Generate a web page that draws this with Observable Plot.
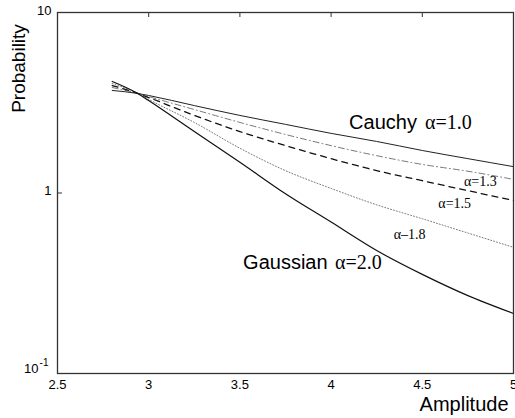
<!DOCTYPE html>
<html>
<head>
<meta charset="utf-8">
<script src="https://cdn.jsdelivr.net/npm/d3@7"></script>
<script src="https://cdn.jsdelivr.net/npm/@observablehq/plot@0.6"></script>
<style>
  body { margin: 0; background: #fff; }
  svg { font-family: "Liberation Sans", Arial, sans-serif; }
</style>
</head>
<body>
<div id="chart"></div>
<script>
// Amplitude values (x)
const amplitude = [2.8, 2.94, 3.0, 3.25, 3.5, 3.75, 4.0, 4.25, 4.5, 4.75, 5.0];
// Probability for each alpha
const cauchy  = [3.70, 3.56, 3.47, 3.05, 2.69, 2.40, 2.14, 1.93, 1.72, 1.55, 1.40];
const alpha13 = [3.84, 3.56, 3.42, 2.90, 2.46, 2.11, 1.83, 1.61, 1.44, 1.32, 1.19];
const alpha15 = [3.94, 3.56, 3.38, 2.69, 2.19, 1.83, 1.55, 1.33, 1.17, 1.03, 0.91];
const alpha18 = [4.04, 3.56, 3.30, 2.46, 1.77, 1.33, 1.06, 0.86, 0.72, 0.60, 0.50];
const gauss   = [4.15, 3.56, 3.25, 2.19, 1.48, 0.99, 0.69, 0.48, 0.354, 0.27, 0.215];

const xTicks = [2.5, 3, 3.5, 4, 4.5, 5];
const xTickLabels = ["2.5", "3", "3.5", "4", "4.5", "5"];
const yTicks = [1, 10];
const yTickLabels = ["1", "10"];

const rows = v => amplitude.map((x, i) => ({x, y: v[i]}));
const pt = (v, i) => [{x: amplitude[i], y: v[i]}];

const W = 515, H = 418;
const mL = 57, mR = 2, mT = 12, mB = 45;
const fw = W - mL - mR, fh = H - mT - mB;
const serif = "Liberation Serif, Times New Roman, serif";

const chart = Plot.plot({
  width: W, height: H,
  marginLeft: mL, marginRight: mR, marginTop: mT, marginBottom: mB,
  x: {domain: [2.5, 5], axis: null},
  y: {type: "log", domain: [0.1, 10], axis: null},
  style: {fontFamily: "Liberation Sans, Arial, sans-serif", color: "#000", background: "#fff", overflow: "visible"},
  marks: [
    Plot.line(rows(cauchy),  {x: "x", y: "y", curve: "monotone-x", stroke: "#222", strokeWidth: 1}),
    Plot.line(rows(alpha13), {x: "x", y: "y", curve: "monotone-x", stroke: "#555", strokeWidth: 0.8, strokeDasharray: "6,3,1,3"}),
    Plot.line(rows(alpha15), {x: "x", y: "y", curve: "monotone-x", stroke: "#111", strokeWidth: 1.3, strokeDasharray: "6,5"}),
    Plot.line(rows(alpha18), {x: "x", y: "y", curve: "monotone-x", stroke: "#555", strokeWidth: 0.8, strokeDasharray: "1,2"}),
    Plot.line(rows(gauss),   {x: "x", y: "y", curve: "monotone-x", stroke: "#111", strokeWidth: 1.2}),
    Plot.frame({stroke: "#333", strokeWidth: 1.3}),
    // inward ticks at top
    Plot.tickX(xTicks.slice(1, -1), {x: d => d, stroke: "#333", insetBottom: fh - 5}),
    Plot.tickY(yTicks.slice(0, 1), {y: d => d, stroke: "#333", insetRight: fw - 5}),
    // x tick labels
    Plot.text(xTicks, {x: d => d, frameAnchor: "bottom", text: (d, i) => xTickLabels[i], dy: 11, fontSize: 13, lineAnchor: "middle", fill: "#000"}),
    // y tick labels
    Plot.text(yTicks, {y: d => d, frameAnchor: "left", text: (d, i) => yTickLabels[i], dx: -6, dy: -2, textAnchor: "end", fontSize: 13, lineAnchor: "middle", fill: "#000"}),
    Plot.text([0.1], {y: d => d, frameAnchor: "left", text: () => "10", dx: -19, dy: -5, textAnchor: "end", fontSize: 13, lineAnchor: "middle", fill: "#000"}),
    Plot.text([0.1], {y: d => d, frameAnchor: "left", text: () => "-1", dx: -9, dy: -11, textAnchor: "end", fontSize: 10, lineAnchor: "middle", fill: "#000"}),
    // axis labels
    Plot.text(["Probability"], {frameAnchor: "top-left", text: d => d, rotate: -90, dx: -39, dy: 56, fontSize: 19, textAnchor: "middle", lineAnchor: "middle", fill: "#000"}),
    Plot.text(["Amplitude"], {frameAnchor: "bottom-right", text: d => d, dx: -5, dy: 37, fontSize: 20, textAnchor: "end", lineAnchor: "bottom", fill: "#000"}),
    // curve labels
    Plot.text(pt(cauchy, 6), {x: "x", y: "y", text: () => "Cauchy", dx: 18, dy: -4, fontSize: 20, textAnchor: "start", lineAnchor: "bottom", fill: "#000"}),
    Plot.text(pt(cauchy, 6), {x: "x", y: "y", text: () => "α=1.0", dx: 94, dy: -4, fontSize: 20, fontFamily: serif, textAnchor: "start", lineAnchor: "bottom", fill: "#000"}),
    Plot.text(pt(alpha13, 9), {x: "x", y: "y", text: () => "α=1.3", dx: -4, dy: 15, fontSize: 14, fontFamily: serif, textAnchor: "start", lineAnchor: "bottom", fill: "#000"}),
    Plot.text(pt(alpha15, 8), {x: "x", y: "y", text: () => "α=1.5", dx: 16, dy: 27, fontSize: 14, fontFamily: serif, textAnchor: "start", lineAnchor: "bottom", fill: "#000"}),
    Plot.text(pt(alpha18, 7), {x: "x", y: "y", text: () => "α–1.8", dx: 17, dy: 34, fontSize: 14, fontFamily: serif, textAnchor: "start", lineAnchor: "bottom", fill: "#000"}),
    Plot.text(pt(gauss, 6), {x: "x", y: "y", text: () => "Gaussian", dx: -88, dy: 47, fontSize: 20, textAnchor: "start", lineAnchor: "bottom", fill: "#000"}),
    Plot.text(pt(gauss, 6), {x: "x", y: "y", text: () => "α=2.0", dx: 4, dy: 47, fontSize: 20, fontFamily: serif, textAnchor: "start", lineAnchor: "bottom", fill: "#000"})
  ]
});
document.getElementById("chart").appendChild(chart);
</script>
</body>
</html>
